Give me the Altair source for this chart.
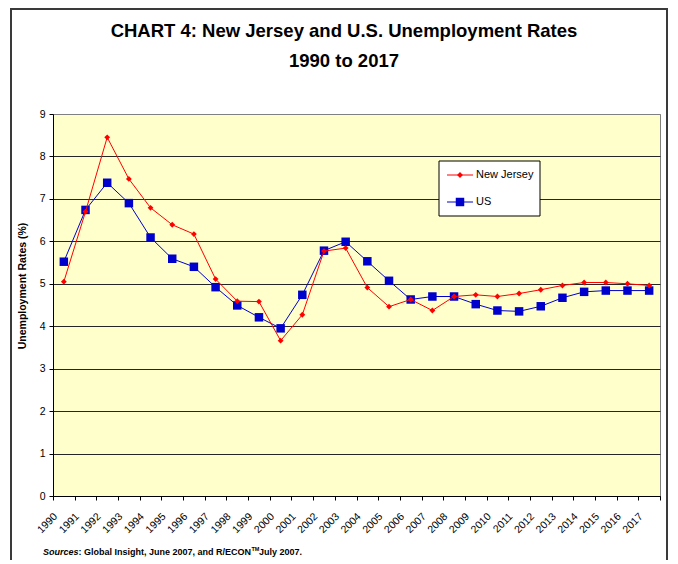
import altair as alt
import pandas as pd

years = ["1990", "1991", "1992", "1993", "1994", "1995", "1996", "1997", "1998", "1999",
         "2000", "2001", "2002", "2003", "2004", "2005", "2006", "2007", "2008", "2009",
         "2010", "2011", "2012", "2013", "2014", "2015", "2016", "2017"]
series_names = ["New Jersey", "US"]
nj = [5.05, 6.70, 8.45, 7.47, 6.79, 6.39, 6.17, 5.11, 4.59, 4.58,
      3.66, 4.27, 5.77, 5.84, 4.91, 4.46, 4.63, 4.37, 4.70, 4.74,
      4.70, 4.77, 4.86, 4.96, 5.03, 5.03, 5.00, 4.96]
us = [5.52, 6.74, 7.38, 6.90, 6.09, 5.59, 5.40, 4.92, 4.49, 4.21,
      3.95, 4.74, 5.78, 5.99, 5.53, 5.07, 4.63, 4.70, 4.70, 4.52,
      4.37, 4.35, 4.47, 4.67, 4.81, 4.84, 4.84, 4.84]
y_ticks = [0, 1, 2, 3, 4, 5, 6, 7, 8, 9]
series_colors = ["#FF0000", "#0000CC"]

title_text = "CHART 4: New Jersey and U.S. Unemployment Rates"
subtitle_text = "1990 to 2017"
y_title = "Unemployment Rates (%)"

FONT = "Liberation Sans"

df = pd.DataFrame({
    "Year": years * 2,
    "Series": [series_names[0]] * len(years) + [series_names[1]] * len(years),
    "Rate": nj + us,
})

color_scale = alt.Scale(domain=series_names, range=series_colors)

xenc = alt.X("Year:O", sort=years,
             scale=alt.Scale(type="band", paddingInner=0, paddingOuter=0),
             axis=alt.Axis(title=None, labelAngle=-45, labelAlign="right", labelBaseline="top",
                           tickBand="extent", tickSize=4, tickColor="black",
                           domainColor="black", labelFontSize=10.5, labelColor="black",
                           labelOffset=-12, labelPadding=11, labelFont=FONT, grid=False))
yenc = alt.Y("Rate:Q", scale=alt.Scale(domain=[0, 9], nice=False, zero=True),
             axis=alt.Axis(title=None, values=y_ticks, tickSize=4, tickColor="black",
                           domainColor="black", labelFontSize=10.5, labelColor="black",
                           labelPadding=4, labelFont=FONT, grid=True,
                           gridColor={"condition": {"test": "datum.value === 9", "value": "#808080"},
                                      "value": "#262626"},
                           gridWidth=1))

base = alt.Chart(df).encode(
    x=xenc, y=yenc,
    color=alt.Color("Series:N", scale=color_scale, legend=None),
)

lines_us = base.transform_filter(alt.datum.Series == series_names[1]).mark_line(strokeWidth=1)
pts_us = base.transform_filter(alt.datum.Series == series_names[1]).mark_point(
    shape="square", filled=True, size=72, opacity=1)
lines_nj = base.transform_filter(alt.datum.Series == series_names[0]).mark_line(strokeWidth=1)
pts_nj = base.transform_filter(alt.datum.Series == series_names[0]).mark_point(
    shape="diamond", filled=True, size=34, opacity=1)


def one(col, val):
    return pd.DataFrame({col: [val]})


frame = alt.Chart(one("a", 0)).mark_rect(
    fillOpacity=0, stroke="#3a3a3a", strokeWidth=2
).encode(x=alt.value(-42), x2=alt.value(614), y=alt.value(-105), y2=alt.value(480))

legend_box = alt.Chart(one("a", 0)).mark_rect(
    fill="white", stroke="black", strokeWidth=1
).encode(x=alt.value(386), x2=alt.value(487), y=alt.value(47), y2=alt.value(102))


def legend_item(name, shape, size, ypos):
    d = pd.DataFrame({"Series": [name]})
    c = alt.Color("Series:N", scale=color_scale, legend=None)
    r = alt.Chart(d).mark_rule(strokeWidth=1).encode(
        x=alt.value(394), x2=alt.value(420), y=alt.value(ypos), color=c)
    p = alt.Chart(d).mark_point(shape=shape, filled=True, size=size, opacity=1).encode(
        x=alt.value(407), y=alt.value(ypos), color=c)
    t = alt.Chart(d).mark_text(align="left", baseline="middle", fontSize=11, font=FONT,
                               color="black").encode(
        x=alt.value(423), y=alt.value(ypos), text="Series:N")
    return [r, p, t]


def txt(s, x, y, size, weight="bold", style="normal", align="center", angle=0, baseline="alphabetic"):
    return alt.Chart(one("t", s)).mark_text(
        fontSize=size, fontWeight=weight, fontStyle=style, align=align, angle=angle,
        baseline=baseline, font=FONT, color="black"
    ).encode(x=alt.value(x), y=alt.value(y), text="t:N")


texts = [
    txt(title_text, 291, -77, 18.5),
    txt(subtitle_text, 291, -47, 18.5),
    txt(y_title, -30, 172, 10.5, angle=270, baseline="middle"),
    txt("Sources", -10, 441, 9, style="italic", align="left"),
    txt(": Global Insight, June 2007, and R/ECON", 25.5, 441, 9, align="left"),
    txt("TM", 198.5, 437, 5.5, align="left"),
    txt(" July 2007.", 206, 441, 9, align="left"),
]

layers = [frame, lines_us, pts_us, lines_nj, pts_nj, legend_box]
layers += legend_item(series_names[0], "diamond", 34, 61)
layers += legend_item(series_names[1], "square", 72, 88)
layers += texts

chart = alt.layer(*layers).properties(
    width=607, height=382,
    autosize=alt.AutoSizeParams(type="none"),
    padding={"left": 45, "top": 106, "right": 9, "bottom": 64},
    background="white",
).configure(font=FONT).configure_view(fill="#FFFFCC", stroke="#808080", strokeWidth=1)

chart.save("out.html", embed_options={"renderer": "svg", "actions": False})
